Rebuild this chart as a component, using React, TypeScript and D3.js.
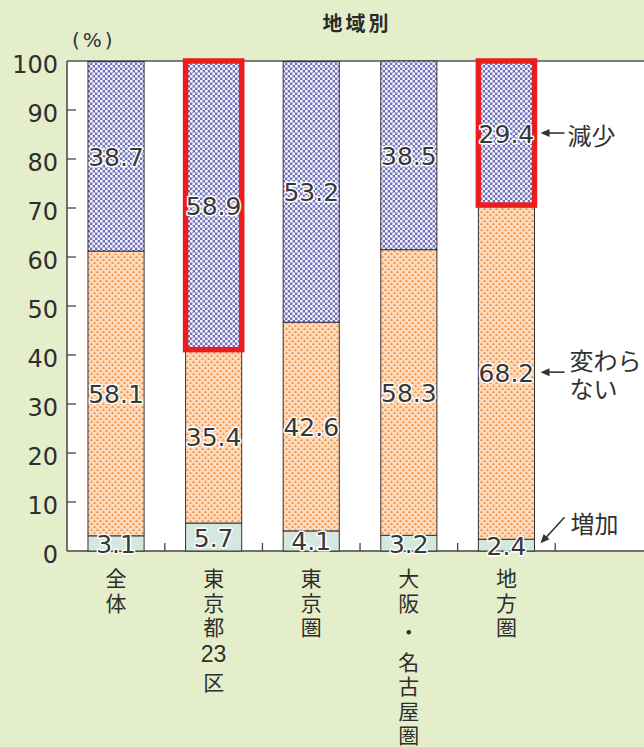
import React from 'react';
import * as d3 from 'd3';

// Regional breakdown: share of respondents by change (%)
const categories = ['全体', '東京都23区', '東京圏', '大阪・名古屋圏', '地方圏'];
const categoryLines = [
  ['全', '体'],
  ['東', '京', '都', '23', '区'],
  ['東', '京', '圏'],
  ['大', '阪', '・', '名', '古', '屋', '圏'],
  ['地', '方', '圏'],
];
const increase = [3.1, 5.7, 4.1, 3.2, 2.4];
const unchanged = [58.1, 35.4, 42.6, 58.3, 68.2];
const decrease = [38.7, 58.9, 53.2, 38.5, 29.4];
const seriesKeys = ['増加', '変わらない', '減少'];
const highlighted = ['東京都23区', '地方圏'];
const yTicks = [0, 10, 20, 30, 40, 50, 60, 70, 80, 90, 100];

const W = 644;
const H = 747;
const margin = { left: 67, top: 61, bottom: 551 };

const NUM_FONT = '"DejaVu Sans", sans-serif';
const JP_FONT = '"Noto Sans CJK JP", sans-serif';
const TEXT = '#333';

export default function App() {
  const rows = categories.map((c, i) => ({
    cat: c,
    増加: increase[i],
    変わらない: unchanged[i],
    減少: decrease[i],
  }));
  const stacked = d3.stack<any>().keys(seriesKeys)(rows);

  const y = d3.scaleLinear().domain([0, 100]).range([margin.bottom, margin.top]);
  const x = d3
    .scaleBand<string>()
    .domain(categories)
    .range([margin.left, margin.left + 97.5 * 5.01])
    .paddingInner(0.425)
    .paddingOuter(0.215);
  const bw = x.bandwidth();
  const step = x.step();

  const fills: Record<string, string> = {
    増加: '#d3e9e0',
    変わらない: 'url(#patUnchanged)',
    減少: 'url(#patDecrease)',
  };

  const lastIdx = categories.length - 1;
  const lastRight = (x(categories[lastIdx]) as number) + bw;
  const decMid = y((stacked[2][lastIdx][0] + stacked[2][lastIdx][1]) / 2);
  const uncMid = y((stacked[1][lastIdx][0] + stacked[1][lastIdx][1]) / 2);
  const incTop = y(stacked[0][lastIdx][1]);

  const arrowHead = (x0: number, y0: number, angle: number) => {
    const len = 9;
    const half = 4;
    const pts = [
      [0, 0],
      [len, -half],
      [len, half],
    ].map(([px, py]) => {
      const c = Math.cos(angle);
      const s = Math.sin(angle);
      return `${x0 + px * c - py * s},${y0 + px * s + py * c}`;
    });
    return <polygon points={pts.join(' ')} fill={TEXT} />;
  };

  return (
    <svg
      width={W}
      height={H}
      style={{ position: 'absolute', left: 0, top: 0 }}
      xmlns="http://www.w3.org/2000/svg"
    >
      <defs>
        <pattern id="patDecrease" width="5" height="5" patternUnits="userSpaceOnUse">
          <rect width="5" height="5" fill="#7070b8" />
          <circle cx="1.25" cy="1.25" r="1.55" fill="#f4f4ff" />
          <circle cx="3.75" cy="3.75" r="1.55" fill="#f4f4ff" />
        </pattern>
        <pattern id="patUnchanged" width="6" height="6" patternUnits="userSpaceOnUse">
          <rect width="6" height="6" fill="#fddcc0" />
          <polygon points="1.5,0.3 3.1,3 -0.1,3" fill="#f19a55" />
          <polygon points="4.5,3.3 6.1,6 2.9,6" fill="#f19a55" />
        </pattern>
      </defs>

      <rect width={W} height={H} fill="#e5eecb" />

      {/* title */}
      <text
        x={357}
        y={22}
        textAnchor="middle"
        dominantBaseline="central"
        fontFamily={JP_FONT}
        fontWeight={700}
        fontSize={20}
        letterSpacing={3}
        fill="#2a2a2a"
      >
        地域別
      </text>
      <text
        x={72}
        y={40}
        dominantBaseline="central"
        fontFamily={NUM_FONT}
        fontSize={20}
        letterSpacing={3}
        fill={TEXT}
      >
        (%)
      </text>

      {/* plot area */}
      <rect x={margin.left} y={margin.top} width={W} height={margin.bottom - margin.top} fill="#fff" />
      <line x1={margin.left} x2={W} y1={margin.top} y2={margin.top} stroke="#555" strokeWidth={1.5} />
      <line x1={margin.left} x2={W} y1={margin.bottom} y2={margin.bottom} stroke="#444" strokeWidth={1.5} />
      <line x1={margin.left} x2={margin.left} y1={margin.top} y2={margin.bottom} stroke="#444" strokeWidth={1.5} />

      {/* y axis */}
      {yTicks.map((t) => (
        <g key={t}>
          {t > 0 && t < 100 && (
            <line x1={margin.left} x2={margin.left + 9} y1={y(t)} y2={y(t)} stroke="#444" strokeWidth={1.3} />
          )}
          <text
            x={58}
            y={y(t) + 4}
            textAnchor="end"
            dominantBaseline="central"
            fontFamily={NUM_FONT}
            fontSize={24}
            fill="#2e2e2e"
          >
            {t}
          </text>
        </g>
      ))}

      {/* x ticks at band boundaries */}
      {categories.map((c) => {
        const tx = (x(c) as number) + bw + (step - bw) / 2;
        return <line key={c} x1={tx} x2={tx} y1={margin.bottom} y2={margin.bottom - 8} stroke="#444" strokeWidth={1.3} />;
      })}

      {/* stacked bars */}
      {stacked.map((s) => (
        <g key={s.key}>
          {s.map((d, i) => (
            <rect
              key={i}
              x={x(categories[i])}
              y={y(d[1])}
              width={bw}
              height={y(d[0]) - y(d[1])}
              fill={fills[s.key]}
              stroke="#3a3030"
              strokeWidth={1}
            />
          ))}
        </g>
      ))}

      {/* highlight frames */}
      {stacked[2].map((d, i) =>
        highlighted.includes(categories[i]) ? (
          <rect
            key={i}
            x={x(categories[i])}
            y={y(d[1])}
            width={bw}
            height={y(d[0]) - y(d[1])}
            fill="none"
            stroke="#ea1c1c"
            strokeWidth={5.5}
          />
        ) : null
      )}

      {/* value labels */}
      {stacked.map((s) =>
        s.map((d, i) => (
          <text
            key={s.key + i}
            x={(x(categories[i]) as number) + bw / 2}
            y={y((d[0] + d[1]) / 2) + 1}
            textAnchor="middle"
            dominantBaseline="central"
            fontFamily={NUM_FONT}
            fontSize={25}
            fill="#383838"
            stroke="#ffffff"
            strokeWidth={3}
            strokeLinejoin="round"
            paintOrder="stroke"
          >
            {d.data[s.key]}
          </text>
        ))
      )}

      {/* series annotations */}
      <g fontFamily={JP_FONT} fontSize={24} fill={TEXT}>
        <line x1={lastRight + 10} x2={lastRight + 30} y1={decMid} y2={decMid} stroke={TEXT} strokeWidth={1.6} />
        {arrowHead(lastRight + 6, decMid, 0)}
        <text x={lastRight + 33} y={decMid + 1} dominantBaseline="central">減少</text>

        <line x1={lastRight + 10} x2={lastRight + 30} y1={uncMid} y2={uncMid} stroke={TEXT} strokeWidth={1.6} />
        {arrowHead(lastRight + 6, uncMid, 0)}
        <text x={lastRight + 35} y={uncMid - 13} dominantBaseline="central">変わら</text>
        <text x={lastRight + 35} y={uncMid + 15} dominantBaseline="central">ない</text>

        <line x1={lastRight + 30} x2={lastRight + 9} y1={incTop - 22} y2={incTop + 1} stroke={TEXT} strokeWidth={1.6} />
        {arrowHead(lastRight + 6, incTop + 4, Math.atan2(-23, 21))}
        <text x={lastRight + 36} y={incTop - 17} dominantBaseline="central">増加</text>
      </g>

      {/* vertical category labels */}
      {categories.map((c, i) => {
        const cx = (x(c) as number) + bw / 2;
        let pos = 577;
        return (
          <g key={c} fill="#2e2e2e" textAnchor="middle">
            {categoryLines[i].map((ch, j) => {
              const extra = ch === '・' ? 5 : ch === '23' ? 3 : 0;
              pos += extra;
              const ty = pos;
              pos += 24.5 + extra;
              const isNum = ch === '23';
              return (
                <text
                  key={j}
                  x={cx}
                  y={ty}
                  dominantBaseline="central"
                  fontFamily={isNum ? '"Liberation Sans", sans-serif' : JP_FONT}
                  fontSize={isNum ? 23 : 21}
                >
                  {ch}
                </text>
              );
            })}
          </g>
        );
      })}
    </svg>
  );
}
